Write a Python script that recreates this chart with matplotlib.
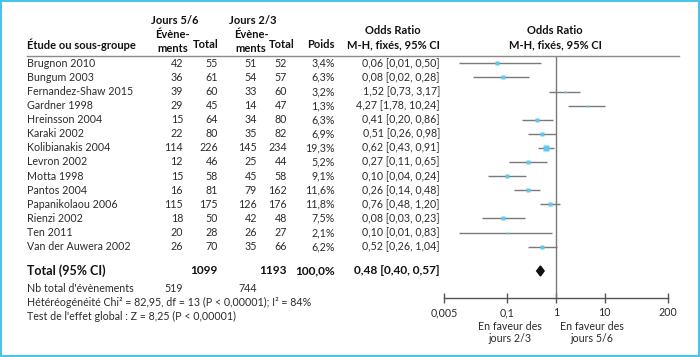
import matplotlib
matplotlib.use("Agg")
import matplotlib.pyplot as plt
from matplotlib.patches import Rectangle, Polygon
from matplotlib.lines import Line2D

# data
studies = ["Brugnon 2010", "Bungum 2003", "Fernandez-Shaw 2015", "Gardner 1998",
           "Hreinsson 2004", "Karaki 2002", "Kolibianakis 2004", "Levron 2002",
           "Motta 1998", "Pantos 2004", "Papanikolaou 2006", "Rienzi 2002",
           "Ten 2011", "Van der Auwera 2002"]
ev_56 = [42, 36, 39, 29, 15, 22, 114, 12, 15, 16, 115, 18, 20, 26]
tot_56 = [55, 61, 60, 45, 64, 80, 226, 46, 58, 81, 175, 50, 28, 70]
ev_23 = [51, 54, 33, 14, 34, 35, 145, 25, 45, 79, 126, 42, 26, 35]
tot_23 = [52, 57, 60, 47, 80, 82, 234, 44, 58, 162, 176, 48, 27, 66]
weights = [3.4, 6.3, 3.2, 1.3, 6.3, 6.9, 19.3, 5.2, 9.1, 11.6, 11.8, 7.5, 2.1, 6.2]
odds = [0.06, 0.08, 1.52, 4.27, 0.41, 0.51, 0.62, 0.27, 0.10, 0.26, 0.76, 0.08, 0.10, 0.52]
ci_lo = [0.01, 0.02, 0.73, 1.78, 0.20, 0.26, 0.43, 0.11, 0.04, 0.14, 0.48, 0.03, 0.01, 0.26]
ci_hi = [0.50, 0.28, 3.17, 10.24, 0.86, 0.98, 0.91, 0.65, 0.24, 0.48, 1.20, 0.23, 0.83, 1.04]

total_56, total_23 = 1099, 1193
total_weight = 100.0
events_56, events_23 = 519, 744
pooled = (0.48, 0.40, 0.57)
xticks = [0.005, 0.1, 1, 10, 200]
xtick_labels = ["0,005", "0,1", "1", "10", "200"]

plt.rcParams['font.family'] = ['Lato', 'DejaVu Sans']
W, H = 700, 357
TXT = '#2b2b2b'
FS = 7.7
HFS = 8.0


def fr(v, nd=2):
    return f"{v:.{nd}f}".replace('.', ',')


def put(x, y, s, ha='left', bold=False, size=None, **kw):
    if size is None:
        size = HFS if bold else FS
    fig.text(x / W, 1 - y / H, s, ha=ha, va='center', fontsize=size,
             fontweight='bold' if bold else 'normal', color=TXT if not bold else '#111', **kw)


fig = plt.figure(figsize=(7, 3.57), dpi=100)

# frame
fig.patches.append(Rectangle((1 / W, 1 / H), 1 - 2 / W, 1 - 2 / H, transform=fig.transFigure,
                             fill=False, edgecolor='#4ec3ea', linewidth=1.5))

# headers
put(175, 21, "Jours 5/6", ha='center', bold=True)
put(172, 35, "Évène-", ha='center', bold=True)
put(173, 49, "ments", ha='center', bold=True)
put(219, 45, "Total", ha='right', bold=True)
put(253, 21, "Jours 2/3", ha='center', bold=True)
put(251, 35, "Évène-", ha='center', bold=True)
put(251, 49, "ments", ha='center', bold=True)
put(295, 45, "Total", ha='right', bold=True)
put(335, 45, "Poids", ha='right', bold=True)
put(27, 45, "Étude ou sous-groupe", bold=True)
put(393, 31, "Odds Ratio", ha='center', bold=True)
put(393, 45, "M-H, fixés, 95% CI", ha='center', bold=True)
put(555, 31, "Odds Ratio", ha='center', bold=True)
put(555, 45, "M-H, fixés, 95% CI", ha='center', bold=True)
fig.add_artist(Line2D([27 / W, 679 / W], [1 - 56 / H, 1 - 56 / H], color='#8a8a8a', lw=1))

# table rows
row0, step = 63.3, 14.1
for i, name in enumerate(studies):
    y = row0 + i * step
    put(27, y, name)
    put(183, y, str(ev_56[i]), ha='right')
    put(218, y, str(tot_56[i]), ha='right')
    put(257, y, str(ev_23[i]), ha='right')
    put(287, y, str(tot_23[i]), ha='right')
    put(335, y, fr(weights[i], 1) + "%", ha='right')
    put(440, y, f"{fr(odds[i])} [{fr(ci_lo[i])}, {fr(ci_hi[i])}]", ha='right')

yt = 271
put(27, yt, "Total (95% CI)", bold=True, size=9.0)
put(218, yt, str(total_56), ha='right', bold=True, size=8.6)
put(287, yt, str(total_23), ha='right', bold=True, size=8.6)
put(335, yt, fr(total_weight, 1) + "%", ha='right', bold=True, size=8.6)
put(440, yt, f"{fr(pooled[0])} [{fr(pooled[1])}, {fr(pooled[2])}]", ha='right', bold=True, size=8.6)
put(27, 288, "Nb total d'évènements")
put(183, 288, str(events_56), ha='right')
put(257, 288, str(events_23), ha='right')
put(27, 302, "Hétéréogénéité Chi² = 82,95, df = 13 (P < 0,00001); I² = 84%")
put(27, 316, "Test de l'effet global : Z = 8,25 (P < 0,00001)")

# forest plot
ax = fig.add_axes([444 / W, 1 - 298 / H, (668 - 444) / W, (298 - 56) / H])
ax.set_xscale('log')
ax.set_xlim(0.005, 200)
ax.set_ylim((298 - row0) / step, (56 - row0) / step)
ax.patch.set_alpha(0)
for s in ['top', 'left', 'right']:
    ax.spines[s].set_visible(False)
ax.spines['bottom'].set_color('#555555')
ax.spines['bottom'].set_linewidth(1)
ax.set_yticks([])
ax.set_xticks(xticks)
ax.set_xticklabels(xtick_labels)
ax.minorticks_off()
ax.tick_params(axis='x', direction='inout', length=7, width=1, color='#555555',
               labelsize=FS, labelcolor=TXT, pad=3)
ax.axvline(1, color='#7a7a7a', lw=1)

for i in range(len(studies)):
    ax.plot([ci_lo[i], ci_hi[i]], [i, i], color='#7a7a7a', lw=1, solid_capstyle='butt')
    side_px = 1.3 + 0.95 * weights[i] ** 0.5
    ax.plot(odds[i], i, marker='s', ms=side_px * 0.72, color='#5ccaf2', mec='none')

ty = (yt - row0) / step
h = 5 / step
ax.add_patch(Polygon([[pooled[1], ty], [pooled[0], ty - h], [pooled[2], ty], [pooled[0], ty + h]],
                     closed=True, color='#111111'))

put(510, 326, "En faveur des", ha='center')
put(510, 339, "jours 2/3", ha='center')
put(592, 326, "En faveur des", ha='center')
put(592, 339, "jours 5/6", ha='center')

fig.savefig("out.png", dpi=100)
